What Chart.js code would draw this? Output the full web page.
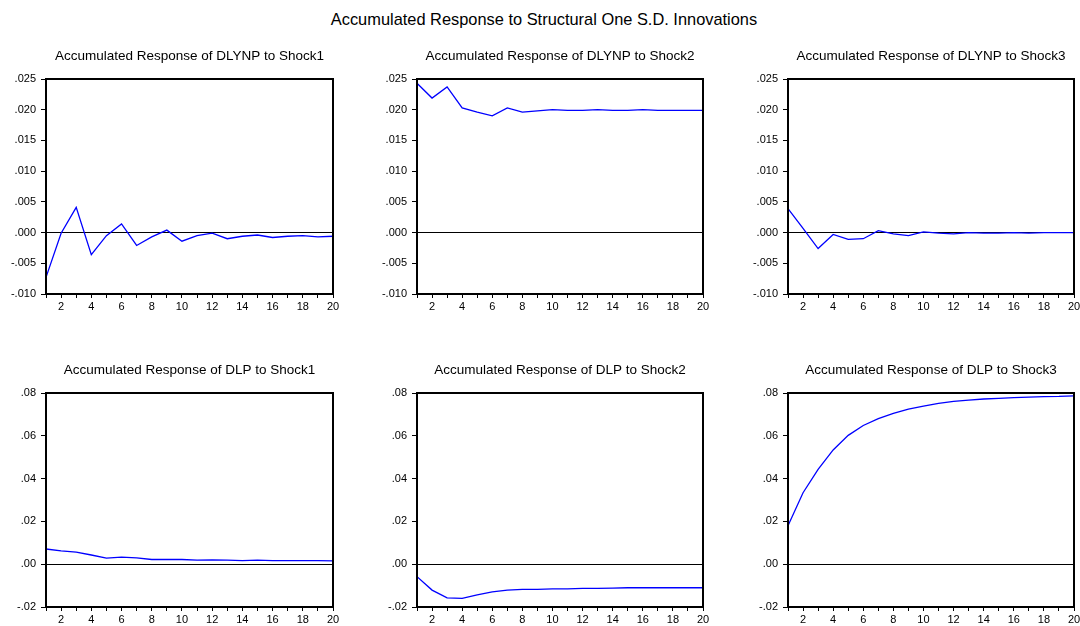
<!DOCTYPE html>
<html lang="en">
<head>
  <meta charset="UTF-8">
  <title>Accumulated Response to Structural One S.D. Innovations</title>
  <script src="https://cdn.jsdelivr.net/npm/chart.js"></script>
  <style>
    body {
      margin: 0;
      width: 1080px;
      height: 626px;
      background: #fff;
      overflow: hidden;
      position: relative;
      font-family: "Liberation Sans", Arial, sans-serif;
    }

    h1 {
      position: absolute;
      top: 9px;
      left: 0;
      width: 1088px;
      margin: 0;
      text-align: center;
      font-size: 16.4px;
      line-height: 20px;
      font-weight: normal;
      color: #000;
    }

    canvas {
      position: absolute;
    }
  </style>
</head>
<body>
  <h1>Accumulated Response to Structural One S.D. Innovations</h1>

  <canvas id="c1"></canvas>
  <canvas id="c2"></canvas>
  <canvas id="c3"></canvas>
  <canvas id="c4"></canvas>
  <canvas id="c5"></canvas>
  <canvas id="c6"></canvas>

  <script>
    const periods = [1, 2, 3, 4, 5, 6, 7, 8, 9, 10, 11, 12, 13, 14, 15, 16, 17, 18, 19, 20];

    const dlynpShock1 = [-0.0073, -0.0001, 0.0041, -0.0036, -0.0005, 0.0014, -0.0021, -0.0007, 0.0004, -0.0014,
                         -0.0005, -0.0001, -0.0010, -0.0006, -0.0004, -0.0008, -0.0006, -0.0005, -0.0007, -0.0006];
    const dlynpShock2 = [0.0243, 0.0219, 0.0237, 0.0203, 0.0196, 0.0190, 0.0203, 0.0196, 0.0198, 0.0200,
                         0.0199, 0.0199, 0.0200, 0.0199, 0.0199, 0.0200, 0.0199, 0.0199, 0.0199, 0.0199];
    const dlynpShock3 = [0.0039, 0.0007, -0.0026, -0.0003, -0.0011, -0.0010, 0.0003, -0.0002, -0.0005, 0.0001,
                         -0.0001, -0.0002, 0.0000, -0.0001, -0.0001, 0.0000, -0.0001, 0.0000, 0.0000, 0.0000];

    const dlpShock1 = [0.0071, 0.0062, 0.0056, 0.0043, 0.0028, 0.0033, 0.0030, 0.0022, 0.0023, 0.0022,
                       0.0019, 0.0020, 0.0019, 0.0017, 0.0019, 0.0017, 0.0017, 0.0017, 0.0017, 0.0016];
    const dlpShock2 = [-0.0058, -0.0121, -0.0157, -0.0160, -0.0143, -0.0129, -0.0121, -0.0118, -0.0118, -0.0115,
                       -0.0115, -0.0113, -0.0113, -0.0112, -0.0110, -0.0110, -0.0110, -0.0110, -0.0110, -0.0110];
    const dlpShock3 = [0.0180, 0.0334, 0.0443, 0.0534, 0.0602, 0.0648, 0.0680, 0.0705, 0.0725, 0.0739,
                       0.0752, 0.0761, 0.0767, 0.0772, 0.0775, 0.0778, 0.0781, 0.0783, 0.0784, 0.0787];

    const dlynpAxis = { min: -0.010, max: 0.025, step: 0.005, digits: 3 };
    const dlpAxis = { min: -0.02, max: 0.08, step: 0.02, digits: 2 };

    // plot box of each panel: left, top, right, bottom
    const panels = [
      { id: 'c1', title: 'Accumulated Response of DLYNP to Shock1', data: dlynpShock1, axis: dlynpAxis, box: [46, 79, 333, 294] },
      { id: 'c2', title: 'Accumulated Response of DLYNP to Shock2', data: dlynpShock2, axis: dlynpAxis, box: [417, 79, 703, 294] },
      { id: 'c3', title: 'Accumulated Response of DLYNP to Shock3', data: dlynpShock3, axis: dlynpAxis, box: [788, 79, 1074, 294] },
      { id: 'c4', title: 'Accumulated Response of DLP to Shock1', data: dlpShock1, axis: dlpAxis, box: [46, 393, 333, 607] },
      { id: 'c5', title: 'Accumulated Response of DLP to Shock2', data: dlpShock2, axis: dlpAxis, box: [417, 393, 703, 607] },
      { id: 'c6', title: 'Accumulated Response of DLP to Shock3', data: dlpShock3, axis: dlpAxis, box: [788, 393, 1074, 607] }
    ];

    // an empty right axis as wide as the left one keeps the title centred over the plot
    const Y_WIDTH = 46, X_HEIGHT = 26, TITLE_H = 39;

    // black frame round the plot area
    const frame = {
      id: 'frame',
      afterDraw(chart) {
        const { ctx, chartArea: a } = chart;
        ctx.save();
        ctx.strokeStyle = '#000';
        ctx.lineWidth = 2;
        ctx.strokeRect(a.left, a.top, a.right - a.left, a.bottom - a.top);
        ctx.restore();
      }
    };

    function fmt(v, digits) {
      let s = Math.abs(v).toFixed(digits).replace(/^0/, '');
      return (v < -1e-9 ? '-' : '') + s;
    }

    panels.forEach(p => {
      const [l, t, r, b] = p.box;
      const cv = document.getElementById(p.id);
      cv.width = (r - l) + 2 * Y_WIDTH;
      cv.height = (b - t) + TITLE_H + X_HEIGHT;
      cv.style.left = (l - Y_WIDTH) + 'px';
      cv.style.top = (t - TITLE_H) + 'px';

      new Chart(cv.getContext('2d'), {
        type: 'line',
        data: {
          labels: periods,
          datasets: [{
            data: p.data,
            borderColor: '#0000ff',
            borderWidth: 1.3,
            pointRadius: 0,
            tension: 0,
            fill: false
          }]
        },
        options: {
          responsive: false,
          animation: false,
          devicePixelRatio: 1,
          layout: { padding: 0 },
          plugins: {
            legend: { display: false },
            tooltip: { enabled: false },
            title: {
              display: true,
              text: p.title,
              color: '#000',
              font: { family: '"Liberation Sans", Arial, sans-serif', size: 13.5, weight: 'normal' },
              padding: { top: 8, bottom: 14.8 }
            }
          },
          scales: {
            x: {
              type: 'category',
              offset: false,
              afterFit: s => { s.height = X_HEIGHT; },
              border: { display: false },
              grid: { drawOnChartArea: false, tickLength: 4, tickColor: '#000', tickWidth: 1 },
              ticks: {
                autoSkip: false,
                maxRotation: 0,
                padding: 2,
                color: '#000',
                font: { family: '"Liberation Sans", Arial, sans-serif', size: 11 },
                callback: (v, i) => (periods[i] % 2 === 0 ? String(periods[i]) : '')
              }
            },
            y: {
              min: p.axis.min,
              max: p.axis.max,
              afterFit: s => { s.width = Y_WIDTH; },
              border: { display: false },
              grid: {
                color: c => (Math.abs(c.tick.value) < 1e-9 ? '#000' : 'rgba(0,0,0,0)'),
                lineWidth: 1,
                tickLength: 5,
                tickColor: '#000'
              },
              ticks: {
                stepSize: p.axis.step,
                padding: 5,
                color: '#000',
                font: { family: '"Liberation Sans", Arial, sans-serif', size: 11 },
                callback: v => fmt(v, p.axis.digits)
              }
            },
            yRight: {
              position: 'right',
              afterFit: s => { s.width = Y_WIDTH; },
              border: { display: false },
              grid: { display: false },
              ticks: { display: false }
            }
          }
        },
        plugins: [frame]
      });
    });
  </script>
</body>
</html>
